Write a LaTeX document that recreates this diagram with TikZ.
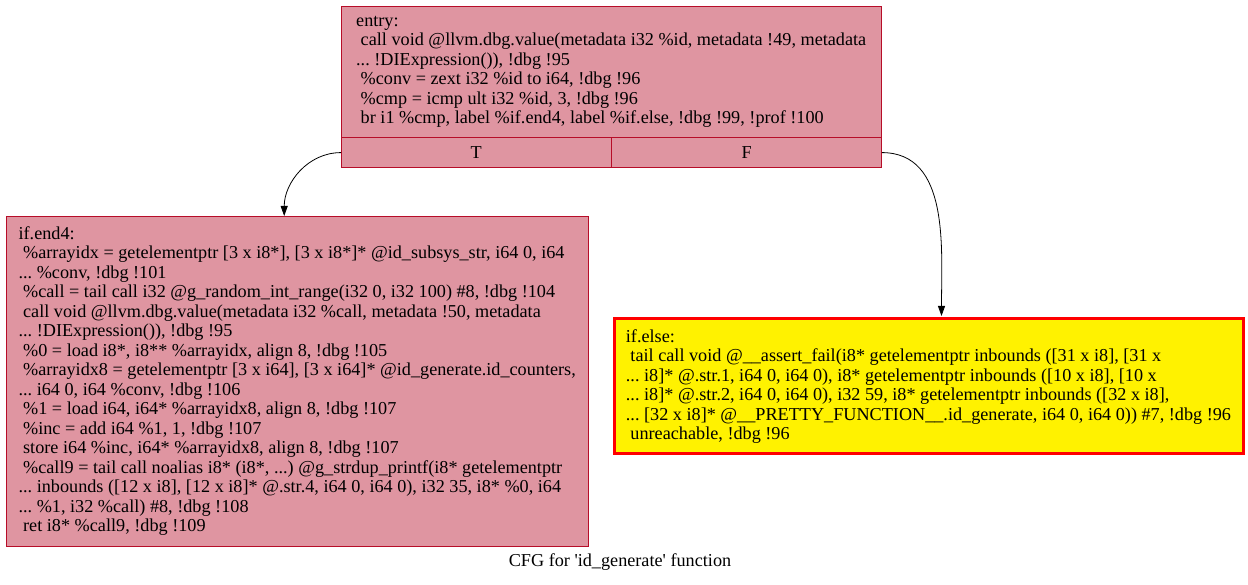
\documentclass[tikz,border=0pt]{standalone}
\usepackage{fontspec}
\setmainfont{Liberation Serif}
\usetikzlibrary{arrows.meta,positioning}
\definecolor{heat}{HTML}{DF95A1}
\definecolor{edge}{HTML}{B70D28}
\newcommand{\lead}{\hspace*{0.25em}}
\frenchspacing

\begin{document}
\begin{tikzpicture}[x=1pt,y=1pt, every node/.style={font=\fontsize{18.2}{19.5}\selectfont}, block/.style={draw=edge,fill=heat,align=left,anchor=north west,inner sep=0pt}, cell/.style={draw=edge,fill=heat,minimum width=270pt,minimum height=30pt,inner sep=0pt}, hot/.style={draw=red,line width=3pt,fill=yellow,align=left,anchor=north west,inner sep=0pt}, arr/.style={-{Triangle[length=10pt,width=7pt]},line width=0.8pt}]
\fill[white] (0,0) rectangle (1248,584);
\useasboundingbox (0,0) rectangle (1248,584);
% entry block with its two branch cells
\node[block,minimum width=540pt,minimum height=131pt] (entry) at (341,578) {entry:\\
\lead call void @llvm.dbg.value(metadata i32 \%id, metadata !49, metadata\\
... !DIExpression()), !dbg !95\\
\lead \%conv = zext i32 \%id to i64, !dbg !96\\
\lead \%cmp = icmp ult i32 \%id, 3, !dbg !96\\
\lead br i1 \%cmp, label \%if.end4, label \%if.else, !dbg !99, !prof !100};
\node[cell,anchor=north west] (entryT) at (entry.south west) {T};
\node[cell,right=0pt of entryT] (entryF) {F};
% successors
\node[block,minimum width=582pt,minimum height=330pt] (ifend) at (6,368) {if.end4:\\
\lead \%arrayidx = getelementptr [3 x i8*], [3 x i8*]* @id\_subsys\_str, i64 0, i64\\
... \%conv, !dbg !101\\
\lead \%call = tail call i32 @g\_random\_int\_range(i32 0, i32 100) \#8, !dbg !104\\
\lead call void @llvm.dbg.value(metadata i32 \%call, metadata !50, metadata\\
... !DIExpression()), !dbg !95\\
\lead \%0 = load i8*, i8** \%arrayidx, align 8, !dbg !105\\
\lead \%arrayidx8 = getelementptr [3 x i64], [3 x i64]* @id\_generate.id\_counters,\\
... i64 0, i64 \%conv, !dbg !106\\
\lead \%1 = load i64, i64* \%arrayidx8, align 8, !dbg !107\\
\lead \%inc = add i64 \%1, 1, !dbg !107\\
\lead store i64 \%inc, i64* \%arrayidx8, align 8, !dbg !107\\
\lead \%call9 = tail call noalias i8* (i8*, ...) @g\_strdup\_printf(i8* getelementptr\\
... inbounds ([12 x i8], [12 x i8]* @.str.4, i64 0, i64 0), i32 35, i8* \%0, i64\\
... \%1, i32 \%call) \#8, !dbg !108\\
\lead ret i8* \%call9, !dbg !109};
\node[hot,minimum width=629pt,minimum height=135pt] (ifelse) at (612.5,266.5) {if.else:\\
\lead tail call void @\_\_assert\_fail(i8* getelementptr inbounds ([31 x i8], [31 x\\
... i8]* @.str.1, i64 0, i64 0), i8* getelementptr inbounds ([10 x i8], [10 x\\
... i8]* @.str.2, i64 0, i64 0), i32 59, i8* getelementptr inbounds ([32 x i8],\\
... [32 x i8]* @\_\_PRETTY\_FUNCTION\_\_.id\_generate, i64 0, i64 0)) \#7, !dbg !96\\
\lead unreachable, !dbg !96};
\node (caption) at (620,22) {CFG for \textquotesingle id\_generate\textquotesingle{} function};
\draw[arr] (entryT.west) to[out=180,in=90] ([xshift=-13pt]ifend.north);
\draw[arr] (entryF.east) to[out=0,in=90] ([xshift=13pt,yshift=1.5pt]ifelse.north);
\end{tikzpicture}
\end{document}
